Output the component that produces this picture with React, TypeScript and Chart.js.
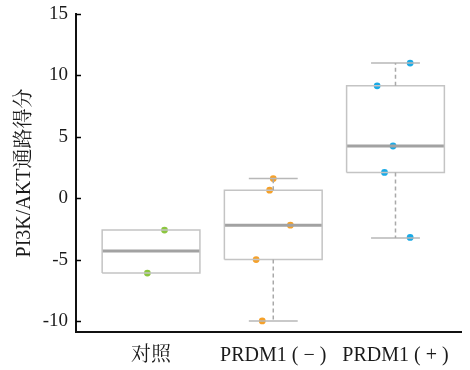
import React, { useEffect, useRef } from "react";
import { Chart, registerables } from "chart.js";

Chart.register(...registerables);

const categories = ["对照", "PRDM1 ( − )", "PRDM1 ( + )"];
const q1 = [-6.1, -5.0, 2.1];
const median = [-4.3, -2.2, 4.25];
const q3 = [-2.6, 0.65, 9.15];
const whiskerLow = [-6.1, -10.0, -3.25];
const whiskerHigh = [-2.6, 1.6, 11.0];
const pointValues = [
  [-2.6, -6.1],
  [1.6, 0.65, -2.2, -5.0, -10.0],
  [11.0, 9.15, 4.25, 2.1, -3.2],
];
const pointJitter = [
  [0.11, -0.03],
  [0.0, -0.03, 0.14, -0.14, -0.09],
  [0.12, -0.15, -0.02, -0.09, 0.12],
];
const pointColors = ["#8cc63f", "#f5a12a", "#1aaae6"];
const yTicks = [-10, -5, 0, 5, 10, 15];

const BOX_HALF = 0.4;
const CAP_HALF = 0.2;
const FONT = "'Liberation Serif', 'Noto Serif CJK SC', 'Noto Sans CJK SC', serif";

export default function App() {
  const ref = useRef<HTMLCanvasElement>(null);
  useEffect(() => {
    if (!ref.current) return;
    const boxPts: any[] = [];
    const medPts: any[] = [];
    const whiskPts: any[] = [];
    const capPts: any[] = [];
    categories.forEach((_, i) => {
      const c = i + 1;
      boxPts.push(
        { x: c - BOX_HALF, y: q1[i] },
        { x: c + BOX_HALF, y: q1[i] },
        { x: c + BOX_HALF, y: q3[i] },
        { x: c - BOX_HALF, y: q3[i] },
        { x: c - BOX_HALF, y: q1[i] },
        { x: c, y: null }
      );
      medPts.push({ x: c - BOX_HALF, y: median[i] }, { x: c + BOX_HALF, y: median[i] }, { x: c, y: null });
      if (whiskerHigh[i] > q3[i]) {
        whiskPts.push({ x: c, y: q3[i] }, { x: c, y: whiskerHigh[i] }, { x: c, y: null });
        capPts.push({ x: c - CAP_HALF, y: whiskerHigh[i] }, { x: c + CAP_HALF, y: whiskerHigh[i] }, { x: c, y: null });
      }
      if (whiskerLow[i] < q1[i]) {
        whiskPts.push({ x: c, y: q1[i] }, { x: c, y: whiskerLow[i] }, { x: c, y: null });
        capPts.push({ x: c - CAP_HALF, y: whiskerLow[i] }, { x: c + CAP_HALF, y: whiskerLow[i] }, { x: c, y: null });
      }
    });
    const lineDs = (data: any[], color: string, width: number, dash: number[] = []) => ({
      type: "line" as const,
      data,
      borderColor: color,
      borderWidth: width,
      borderDash: dash,
      pointRadius: 0,
      fill: false,
      spanGaps: false,
      tension: 0,
    });
    const pointDs = categories.map((_, i) => ({
      type: "scatter" as const,
      data: pointValues[i].map((v, j) => ({ x: i + 1 + pointJitter[i][j], y: v })),
      backgroundColor: pointColors[i],
      borderColor: pointColors[i],
      pointRadius: 3.4,
      borderWidth: 0,
    }));
    const innerTicks = {
      id: "innerTicks",
      afterDraw(chart: any) {
        const ctx = chart.ctx;
        const ys = chart.scales.y;
        const left = chart.chartArea.left;
        ctx.save();
        ctx.strokeStyle = "#000";
        ctx.lineWidth = 1.5;
        yTicks.forEach((v) => {
          const p = Math.round(ys.getPixelForValue(v)) + 0.5;
          ctx.beginPath();
          ctx.moveTo(left, p);
          ctx.lineTo(left + 5, p);
          ctx.stroke();
        });
        ctx.restore();
      },
    };
    const chart = new Chart(ref.current, {
      type: "scatter",
      data: {
        datasets: [
          lineDs(whiskPts, "#a9a9a9", 1.5, [4, 3]),
          lineDs(capPts, "#b8b8b8", 1.5),
          lineDs(boxPts, "#c4c4c4", 1.5),
          lineDs(medPts, "#a2a2a2", 3),
          ...pointDs,
        ] as any,
      },
      options: {
        animation: false,
        responsive: false,
        layout: { padding: { top: 14, right: 9, left: 0, bottom: 0 } },
        plugins: { legend: { display: false }, tooltip: { enabled: false } },
        scales: {
          x: {
            type: "linear",
            min: 0.386,
            max: 3.536,
            afterBuildTicks: (s: any) => {
              s.ticks = categories.map((_, i) => ({ value: i + 1 }));
            },
            afterFit: (s: any) => {
              s.height = 38;
              s.paddingLeft = 0;
              s.paddingRight = 0;
            },
            ticks: {
              callback: (v: any) => categories[Math.round(Number(v)) - 1] ?? "",
              font: { family: FONT, size: 20 },
              color: "#1a1a1a",
              padding: 12,
              maxRotation: 0,
              autoSkip: false,
            },
            grid: { display: true, drawOnChartArea: false, drawTicks: false, color: "#000" },
            border: { display: true, color: "#111", width: 2 },
          },
          y: {
            type: "linear",
            min: -10.9,
            max: 15,
            afterBuildTicks: (s: any) => {
              s.ticks = yTicks.map((v) => ({ value: v }));
            },
            afterFit: (s: any) => {
              s.width = 76;
              s.paddingTop = 0;
              s.paddingBottom = 0;
            },
            ticks: {
              font: { family: FONT, size: 19 },
              color: "#1a1a1a",
              padding: 8,
            },
            grid: { display: true, drawOnChartArea: false, drawTicks: false, color: "#000" },
            border: { display: true, color: "#111", width: 2 },
            title: {
              display: true,
              text: "PI3K/AKT通路得分",
              font: { family: FONT, size: 20 },
              color: "#1a1a1a",
              padding: { top: 13, bottom: 0 },
            },
          },
        },
      },
      plugins: [innerTicks],
    });
    return () => chart.destroy();
  }, []);
  return (
    <div style={{ position: "fixed", left: 0, top: 0, width: 470, height: 370, background: "#fff" }}>
      <canvas ref={ref} width={470} height={370} />
    </div>
  );
}
